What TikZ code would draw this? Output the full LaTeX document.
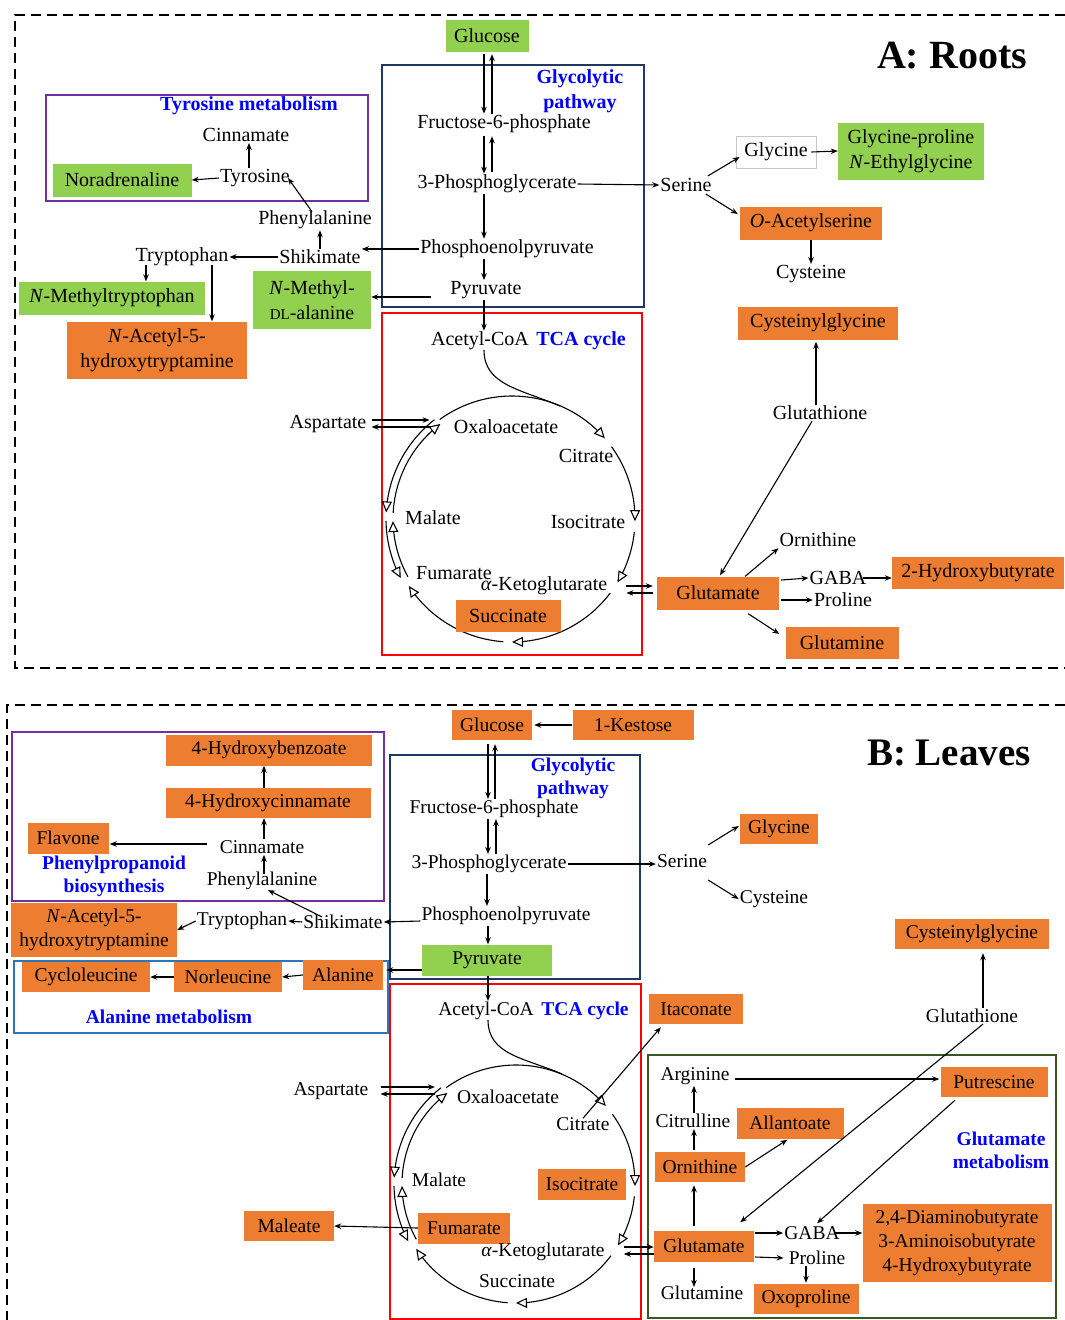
\documentclass[tikz,border=0pt]{standalone}
\usepackage{fontspec}
\setmainfont{Liberation Serif}
\usetikzlibrary{arrows.meta,calc}
\definecolor{lgreen}{HTML}{92D050}
\definecolor{lorange}{HTML}{ED7D31}
\definecolor{navyb}{HTML}{203864}
\definecolor{purp}{HTML}{7030A0}
\definecolor{sblue}{HTML}{2E75B6}
\definecolor{dgreen}{HTML}{385723}
\definecolor{hblue}{HTML}{0000FF}
\definecolor{gborder}{HTML}{C8C8C8}
\newcommand\cycarc[5]{\draw[cyc] plot[domain=#4:#5,samples=40] ({#1+#3*cos(\x)},{#2+#3*sin(\x)});}
\begin{document}
\begin{tikzpicture}[x=1pt,y=-1pt,
 ta/.style={font=\fontsize{20}{25}\selectfont, inner sep=1pt, align=center},
 tb/.style={font=\fontsize{19.5}{24}\selectfont, inner sep=1pt, align=center},
 sz/.style 2 args={minimum width=#1pt, minimum height=#2pt, inner sep=0pt},
 grn/.style={fill=lgreen}, org/.style={fill=lorange},
 arr/.style={-{Stealth[length=7pt,width=5.5pt]}, line width=1.1pt},
 cyc/.style={-{Triangle[length=11pt,width=10pt,fill=white,line width=1.1pt]}, line width=1.1pt},
 hdr/.style={font=\bfseries\fontsize{20}{25}\selectfont, text=hblue, align=center, inner sep=0pt},
 hdrB/.style={font=\bfseries\fontsize{19.5}{23}\selectfont, text=hblue, align=center, inner sep=0pt},
 frame/.style={line width=2.2pt, dash pattern=on 10pt off 6pt},
 reg/.style={line width=2.2pt}]
\useasboundingbox (0,0) rectangle (1065,1320);

% ---------- frames and regions ----------
\draw[frame] (1065,15) -- (15,15) -- (15,668) -- (1065,668);
\draw[frame] (1065,705) -- (7,705) -- (7,1320);
\draw[reg,navyb] (382,65) rectangle (644,307);
\draw[reg,red] (382,313) rectangle (642,655);
\draw[reg,purp] (46,95) rectangle (368,201);
\draw[reg,navyb] (390,755) rectangle (640,979);
\draw[reg,red] (390,984) rectangle (641,1319);
\draw[reg,purp] (12,732) rectangle (384,901);
\draw[reg,sblue] (14,961) rectangle (388,1033);
\draw[reg,dgreen] (648,1055) rectangle (1056,1318);

% ---------- TCA cycle A ----------
\draw[line width=1.1pt] (484,350) .. controls (484,385) and (520,389) .. (560,406);
\cycarc{512}{519}{123}{-126}{-41}
\cycarc{512}{519}{123}{-36}{1}
\cycarc{512}{519}{123}{6}{31}
\cycarc{512}{519}{123}{37}{90}
\cycarc{512}{519}{123}{94}{147}
\cycarc{512}{519}{119}{151}{179}
\cycarc{512}{519}{119}{183}{233}
\cycarc{512}{519}{126}{232}{183}
\cycarc{512}{519}{126}{179}{152}

% ---------- TCA cycle B ----------
\draw[line width=1.1pt] (488,1020) .. controls (488,1055) and (525,1058) .. (562,1074);
\cycarc{516}{1184}{119}{-126}{-41}
\cycarc{516}{1184}{119}{-36}{1}
\cycarc{516}{1184}{119}{6}{31}
\cycarc{516}{1184}{119}{37}{90}
\cycarc{516}{1184}{119}{94}{147}
\cycarc{516}{1184}{114}{151}{179}
\cycarc{516}{1184}{114}{183}{233}
\cycarc{516}{1184}{122}{232}{183}
\cycarc{516}{1184}{122}{179}{152}

% ---------- Panel A nodes ----------
\node[font=\bfseries\fontsize{40}{44}\selectfont] (titA) at (952,56) {A: Roots};
\node[ta,grn,sz={83}{32}] (glcA) at (487,36) {Glucose};
\node[hdr] (glyhA) at (580,91) {Glycolytic\\pathway};
\node[ta] (f6pA) at (504,124) {Fructose-6-phosphate};
\node[ta] (pgA) at (497,184) {3-Phosphoglycerate};
\node[ta] (pepA) at (507,249) {Phosphoenolpyruvate};
\node[ta] (pyrA) at (486,290) {Pyruvate};
\node[ta] (acoA) at (480,341) {Acetyl-CoA};
\node[hdr] (tcahA) at (581,341) {TCA cycle};
\node[ta] (aspA) at (328,424) {Aspartate};
\node[ta] (oaaA) at (506,427) {Oxaloacetate};
\node[ta] (citA) at (586,456) {Citrate};
\node[ta] (malA) at (433,518) {Malate};
\node[ta] (isoA) at (588,522) {Isocitrate};
\node[ta] (fumA) at (454,573) {Fumarate};
\node[ta] (akgA) at (544,586) {\textit{α}-Ketoglutarate};
\node[ta,org,sz={105}{32}] (sucA) at (508,616) {Succinate};
\node[hdr] (tyrhA) at (249,106) {Tyrosine metabolism};
\node[ta] (cinA) at (246,135) {Cinnamate};
\node[ta] (tyrA) at (255,178) {Tyrosine};
\node[ta,grn,sz={139}{33}] (norA) at (122,180) {Noradrenaline};
\node[ta] (pheA) at (315,220) {Phenylalanine};
\node[ta] (shkA) at (320,257) {Shikimate};
\node[ta] (trpA) at (182,257) {Tryptophan};
\node[ta,grn,sz={186}{33}] (nmtA) at (112,298) {\textit{N}-Methyltryptophan};
\node[ta,org,sz={180}{57}] (nacA) at (157,350) {\textit{N}-Acetyl-5-\\hydroxytryptamine};
\node[ta,grn,sz={118}{58}] (nmaA) at (312,300) {\textit{N}-Methyl-\\{\fontsize{15}{18}\selectfont DL}-alanine};
\node[ta] (serA) at (686,185) {Serine};
\node[ta,sz={80}{32},draw=gborder,line width=0.8pt] (glyA) at (776,152) {Glycine};
\node[ta,grn,sz={146}{57}] (gpA) at (911,151) {Glycine-proline\\\textit{N}-Ethylglycine};
\node[ta,org,sz={142}{33}] (oasA) at (811,223) {\textit{O}-Acetylserine};
\node[ta] (cysA) at (811,274) {Cysteine};
\node[ta,org,sz={160}{33}] (cygA) at (818,323) {Cysteinylglycine};
\node[ta] (gshA) at (820,413) {Glutathione};
\node[ta,org,sz={122}{33}] (gluA) at (718,593) {Glutamate};
\node[ta] (ornA) at (818,540) {Ornithine};
\node[ta] (gabaA) at (838,578) {GABA};
\node[ta] (proA) at (843,600) {Proline};
\node[ta,org,sz={172}{32}] (hbA) at (978,573) {2-Hydroxybutyrate};
\node[ta,org,sz={113}{32}] (glnA) at (842,643) {Glutamine};

% ---------- Panel B nodes ----------
\node[font=\bfseries\fontsize{39}{43}\selectfont] (titB) at (949,753) {B: Leaves};
\node[tb,org,sz={80}{30}] (glcB) at (492,725) {Glucose};
\node[tb,org,sz={121}{30}] (kesB) at (633,725) {1-Kestose};
\node[hdrB] (glyhB) at (573,778) {Glycolytic\\pathway};
\node[tb] (f6pB) at (494,809) {Fructose-6-phosphate};
\node[tb] (pgB) at (489,864) {3-Phosphoglycerate};
\node[tb] (pepB) at (506,916) {Phosphoenolpyruvate};
\node[tb,grn,sz={130}{31}] (pyrB) at (487,960) {Pyruvate};
\node[tb] (serB) at (682,861) {Serine};
\node[tb,org,sz={78}{30}] (glyB) at (779,829) {Glycine};
\node[tb] (cysB) at (774,899) {Cysteine};
\node[tb,org,sz={206}{31}] (hbzB) at (269,750) {4-Hydroxybenzoate};
\node[tb,org,sz={205}{30}] (hcB) at (268,803) {4-Hydroxycinnamate};
\node[tb,org,sz={81}{31}] (flaB) at (68,838) {Flavone};
\node[tb] (cinB) at (262,847) {Cinnamate};
\node[tb] (pheB) at (262,881) {Phenylalanine};
\node[hdrB] (pphB) at (114,876) {Phenylpropanoid\\biosynthesis};
\node[tb] (shkB) at (343,922) {Shikimate};
\node[tb] (trpB) at (242,921) {Tryptophan};
\node[tb,org,sz={166}{54}] (nacB) at (94,930) {\textit{N}-Acetyl-5-\\hydroxytryptamine};
\node[tb,org,sz={80}{30}] (alaB) at (343,975) {Alanine};
\node[tb,org,sz={108}{30}] (nleB) at (228,977) {Norleucine};
\node[tb,org,sz={128}{30}] (cleB) at (86,977) {Cycloleucine};
\node[hdrB] (alahB) at (169,1017) {Alanine metabolism};
\node[tb] (acoB) at (486,1011) {Acetyl-CoA};
\node[hdrB] (tcahB) at (585,1011) {TCA cycle};
\node[tb] (aspB) at (331,1091) {Aspartate};
\node[tb] (oaaB) at (508,1097) {Oxaloacetate};
\node[tb] (citB) at (583,1124) {Citrate};
\node[tb] (malB) at (439,1180) {Malate};
\node[tb,org,sz={88}{31}] (isoB) at (582,1184) {Isocitrate};
\node[tb,org,sz={92}{31}] (fumB) at (464,1228) {Fumarate};
\node[tb] (akgB) at (543,1252) {\textit{α}-Ketoglutarate};
\node[tb] (sucB) at (517,1281) {Succinate};
\node[tb,org,sz={90}{30}] (maleB) at (289,1226) {Maleate};
\node[tb,org,sz={94}{30}] (itaB) at (696,1009) {Itaconate};
\node[tb,org,sz={154}{30}] (cygB) at (972,934) {Cysteinylglycine};
\node[tb] (gshB) at (972,1016) {Glutathione};
\node[hdrB] (gmhB) at (1001,1150) {Glutamate\\metabolism};
\node[tb] (argB) at (695,1076) {Arginine};
\node[tb,org,sz={107}{30}] (putB) at (994,1082) {Putrescine};
\node[tb] (citrB) at (693,1121) {Citrulline};
\node[tb,org,sz={107}{31}] (allB) at (790,1123) {Allantoate};
\node[tb,org,sz={90}{30}] (ornB) at (700,1167) {Ornithine};
\node[tb,org,sz={100}{31}] (gluB) at (704,1246) {Glutamate};
\node[tb] (gabaB) at (812,1233) {GABA};
\node[tb] (proB) at (817,1258) {Proline};
\node[tb,org,sz={189}{78}] (dabB) at (957,1243) {2,4-Diaminobutyrate\\3-Aminoisobutyrate\\4-Hydroxybutyrate};
\node[tb,org,sz={105}{30}] (oxoB) at (806,1299) {Oxoproline};
\node[tb] (glnB) at (702,1293) {Glutamine};

% ---------- Panel A connectors ----------
\draw[arr] ($(glcA.south)+(-3,2)$) -- ($(glcA.south |- f6pA.north)+(-3,0)$);
\draw[arr] ($(glcA.south |- f6pA.north)+(5,0)$) -- ($(glcA.south)+(5,2)$);
\draw[arr] ($(glcA.south |- f6pA.south)+(-3,2)$) -- ($(glcA.south |- pgA.north)+(-3,0)$);
\draw[arr] ($(glcA.south |- pgA.north)+(5,-2)$) -- ($(glcA.south |- f6pA.south)+(5,2)$);
\draw[arr] ($(glcA.south |- pgA.south)+(-3,0)$) -- ($(glcA.south |- pepA.north)+(-3,0)$);
\draw[arr] ($(glcA.south |- pepA.south)+(-3,0)$) -- ($(glcA.south |- pyrA.north)+(-3,0)$);
\draw[arr] ($(glcA.south |- pyrA.south)+(-3,0)$) -- ($(glcA.south |- acoA.north)+(-3,0)$);
\draw[arr] (pgA.east) -- (serA.west);
\draw[arr] (pepA.west) -- (pepA.west -| shkA.east);
\draw[arr] ($(pyrA.west)+(-18,7)$) -- ($(pyrA.west -| nmaA.east)+(0,7)$);
\draw[arr] (shkA.north) -- (shkA.north |- pheA.south);
\draw[arr] ($(pheA.north)+(-3,2)$) -- ($(tyrA.center)+(33,0)$);
\draw[arr] ($(tyrA.north)+(-6,0)$) -- ($(tyrA.north |- cinA.south)+(-6,0)$);
\draw[arr] (tyrA.west) -- (norA.east);
\draw[arr] (shkA.west) -- (trpA.east);
\draw[arr] ($(trpA.south)+(-36,-2)$) -- ($(trpA.south |- nmtA.north)+(-36,0)$);
\draw[arr] ($(trpA.south)+(30,-2)$) -- ($(trpA.south |- nacA.north)+(30,0)$);
\draw[arr] ($(aspA.east)+(4,-4)$) -- ($(oaaA.west)+(-23,-7)$);
\draw[arr] ($(oaaA.west)+(-23,0)$) -- ($(aspA.east)+(4,3)$);
\draw[arr] ($(akgA.east)+(18,0)$) -- ($(gluA.west)+(-4,-7)$);
\draw[arr] ($(gluA.west)+(-4,0)$) -- ($(akgA.east)+(18,7)$);
\draw[arr] ($(serA.east)+(-5,-9)$) -- ($(glyA.west)+(4,5)$);
\draw[arr] ($(glyA.east)+(-5,0)$) -- (gpA.west);
\draw[arr] ($(serA.east)+(-7,9)$) -- ($(oasA.west)+(-2,-9)$);
\draw[arr] (oasA.south) -- (cysA.north);
\draw[arr] ($(gshA.north)+(-4,0)$) -- ($(cygA.south)+(-2,2)$);
\draw[arr] ($(gshA.south)+(-8,0)$) -- ($(gluA.north)+(2,-1)$);
\draw[arr] ($(gluA.north east)+(-34,0)$) -- (ornA.south west);
\draw[arr] ($(gluA.east)+(2,-13)$) -- (gabaA.west);
\draw[arr] ($(gabaA.east)+(-5,0)$) -- (gabaA.east -| hbA.west);
\draw[arr] ($(gluA.east)+(2,7)$) -- (proA.west);
\draw[arr] ($(gluA.south east)+(-31,4)$) -- ($(glnA.west)+(-6,-9)$);

% ---------- Panel B connectors ----------
\draw[arr] (kesB.west) -- ($(glcB.east)+(2,0)$);
\draw[arr] ($(glcB.south)+(-4,4)$) -- ($(glcB.south |- f6pB.north)+(-4,0)$);
\draw[arr] ($(glcB.south |- f6pB.north)+(3,0)$) -- ($(glcB.south)+(3,4)$);
\draw[arr] ($(glcB.south |- f6pB.south)+(-4,0)$) -- ($(glcB.south |- pgB.north)+(-4,0)$);
\draw[arr] ($(glcB.south |- pgB.north)+(4,0)$) -- ($(glcB.south |- f6pB.south)+(4,0)$);
\draw[arr] ($(glcB.south |- pgB.south)+(-5,0)$) -- ($(glcB.south |- pepB.north)+(-5,0)$);
\draw[arr] ($(glcB.south |- pepB.south)+(-4,0)$) -- ($(glcB.south |- pyrB.north)+(-4,0)$);
\draw[arr] ($(glcB.south |- pyrB.south)+(-4,0)$) -- ($(glcB.south |- acoB.north)+(-4,0)$);
\draw[arr] (pgB.east) -- (pgB.east -| serB.west);
\draw[arr] ($(serB.east)+(0,-16)$) -- ($(glyB.west)+(-1,-3)$);
\draw[arr] ($(serB.east)+(0,19)$) -- (cysB.west);
\draw[arr] ($(pepB.west)+(0,5)$) -- (shkB.east);
\draw[arr] ($(pyrB.west)+(0,10)$) -- ($(alaB.east)+(3,-5)$);
\draw[arr] (shkB.west) -- (trpB.east);
\draw[arr] (trpB.west) -- (nacB.east);
\draw[arr] ($(shkB.north)+(-21,3)$) -- ($(pheB.south)+(6,-1)$);
\draw[arr] ($(pheB.north)+(2,3)$) -- ($(cinB.south)+(2,0)$);
\draw[arr] ($(cinB.west)+(-12,-3)$) -- ($(flaB.east)+(1,6)$);
\draw[arr] ($(cinB.north)+(2,0)$) -- ($(hcB.south)+(-4,0)$);
\draw[arr] ($(hcB.north)+(-4,0)$) -- ($(hbzB.south)+(-5,0)$);
\draw[arr] (alaB.west) -- (nleB.east);
\draw[arr] (nleB.west) -- (cleB.east);
\draw[arr] ($(aspB.east)+(11,-4)$) -- ($(oaaB.west)+(-21,-10)$);
\draw[arr] ($(oaaB.west)+(-21,-3)$) -- ($(aspB.east)+(11,3)$);
\draw[arr] (fumB.west) -- (maleB.east);
\draw[arr] ($(citB.north)+(0,2)$) -- ($(itaB.south west)+(12,3)$);
\draw[arr] ($(akgB.east)+(18,-5)$) -- ($(gluB.west)+(0,1)$);
\draw[arr] ($(gluB.west)+(0,8)$) -- ($(akgB.east)+(18,2)$);
\draw[arr] ($(gshB.north)+(11,0)$) -- ($(cygB.south)+(11,4)$);
\draw[arr] ($(gshB.south)+(11,0)$) -- ($(gluB.north east)+(-14,-8)$);
\draw[arr] ($(argB.east)+(4,3)$) -- ($(putB.west)+(-1,-3)$);
\draw[arr] ($(citrB.north)+(1,0)$) -- ($(citrB.north |- argB.south)+(1,0)$);
\draw[arr] ($(ornB.north)+(-6,-2)$) -- ($(ornB.north |- citrB.south)+(-6,0)$);
\draw[arr] (ornB.east) -- ($(allB.south west)+(51,1)$);
\draw[arr] ($(gluB.north)+(-10,-4)$) -- ($(ornB.south)+(-6,3)$);
\draw[arr] ($(putB.south)+(-39,3)$) -- ($(gabaB.north)+(5,-2)$);
\draw[arr] ($(gluB.east)+(1,-13)$) -- (gabaB.west);
\draw[arr] ($(gabaB.east)+(-6,0)$) -- (gabaB.east -| dabB.west);
\draw[arr] ($(gluB.east)+(1,11)$) -- ($(proB.west)+(-4,0)$);
\draw[arr] ($(proB.south)+(-11,0)$) -- ($(oxoB.north)+(0,-1)$);
\draw[arr] ($(gluB.south)+(-10,6)$) -- ($(glnB.north)+(-8,2)$);
\end{tikzpicture}
\end{document}
